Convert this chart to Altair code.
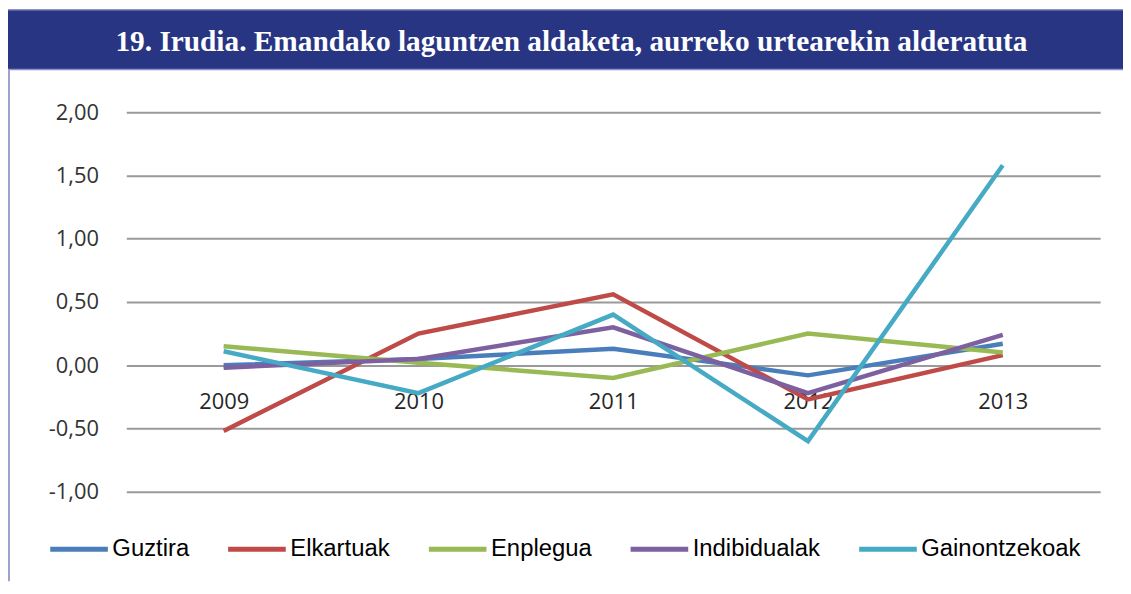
import altair as alt
import pandas as pd

title_text = "19. Irudia. Emandako laguntzen aldaketa, aurreko urtearekin alderatuta"

years = ["2009", "2010", "2011", "2012", "2013"]
series = ["Guztira", "Elkartuak", "Enplegua", "Indibidualak", "Gainontzekoak"]
colors = ["#4A7EBB", "#BE4B48", "#98B954", "#7D60A0", "#46AAC5"]

guztira = [0.00, 0.05, 0.13, -0.08, 0.17]
elkartuak = [-0.52, 0.25, 0.56, -0.27, 0.08]
enplegua = [0.15, 0.02, -0.10, 0.25, 0.10]
indibidualak = [-0.02, 0.05, 0.30, -0.22, 0.24]
gainontzekoak = [0.11, -0.22, 0.40, -0.60, 1.58]

y_ticks = [-1.0, -0.5, 0.0, 0.5, 1.0, 1.5, 2.0]

values = [guztira, elkartuak, enplegua, indibidualak, gainontzekoak]
rows = []
for s, vals in zip(series, values):
    for yr, v in zip(years, vals):
        rows.append({"Urtea": yr, "Saila": s, "Balioa": v})
df = pd.DataFrame(rows)

W, H = 980, 382

lines = alt.Chart(df).mark_line(strokeWidth=4.5, strokeJoin="miter").encode(
    x=alt.X("Urtea:N", sort=years,
            scale=alt.Scale(paddingInner=0, paddingOuter=0.5),
            axis=alt.Axis(title=None, labelAngle=0, domain=False, ticks=False, tickSize=0,
                          grid=False, offset=-127.33, labelPadding=27,
                          labelFont="Open Sans", labelFontSize=22, labelColor="#262626",
                          labelBaseline="top")),
    y=alt.Y("Balioa:Q",
            scale=alt.Scale(domain=[-1, 2], nice=False, zero=False),
            axis=alt.Axis(title=None, values=y_ticks, domain=False, ticks=False, tickSize=0,
                          grid=True, gridColor="#9a9a9a", gridWidth=2,
                          labelExpr="replace(replace(format(datum.value, '.2f'), '.', ','), '\u2212', '-')",
                          labelFont="Open Sans", labelFontSize=22, labelColor="#333333",
                          labelPadding=28)),
    color=alt.Color("Saila:N", sort=series,
                    scale=alt.Scale(domain=series, range=colors),
                    legend=alt.Legend(title=None, orient="none", direction="horizontal",
                                      columns=5, legendX=-79, legendY=408, padding=0,
                                      symbolType="stroke", symbolSize=3364,
                                      symbolStrokeWidth=5, labelOffset=2,
                                      columnPadding=28, labelFont="Liberation Sans",
                                      labelFontSize=24, labelColor="#000000",
                                      labelLimit=400)),
    order=alt.Order("Urtea:N"),
)

bar_df = pd.DataFrame({"t": [title_text]})

title_bar = alt.Chart(bar_df).mark_rect(fill="#283583", stroke="#8E8EC8", strokeWidth=1.5).encode(
    x=alt.value(-120), x2=alt.value(1010), y=alt.value(-103), y2=alt.value(-43)
)

title_txt = alt.Chart(bar_df).mark_text(
    font="Liberation Serif", fontSize=29.5, fontWeight="bold", color="#FFFFFF",
    align="center", baseline="middle"
).encode(
    x=alt.value(448), y=alt.value(-71), text="t:N"
)

left_border = alt.Chart(bar_df).mark_rule(color="#A0A0D0", strokeWidth=2).encode(
    x=alt.value(-118), y=alt.value(-43), y2=alt.value(472)
)

chart = alt.layer(title_bar, title_txt, left_border, lines).properties(
    width=W, height=H,
    autosize=alt.AutoSizeParams(type="none"),
    padding={"left": 119, "top": 103, "right": 23, "bottom": 90},
    background="#FFFFFF",
).configure_view(strokeWidth=0)

chart.save("out.html", embed_options={"renderer": "svg", "actions": False})
